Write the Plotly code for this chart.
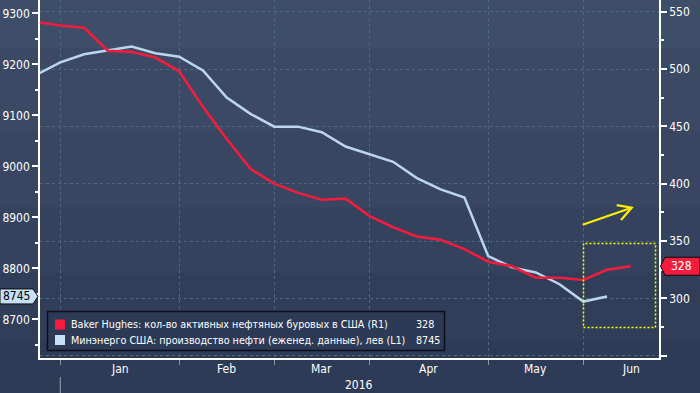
import plotly.graph_objects as go
import pandas as pd

# ---------------- data ----------------
WEEKS = ["2015-12-25", "2016-01-01", "2016-01-08", "2016-01-15", "2016-01-22", "2016-01-29",
         "2016-02-05", "2016-02-12", "2016-02-19", "2016-02-26", "2016-03-04", "2016-03-11",
         "2016-03-18", "2016-03-25", "2016-04-01", "2016-04-08", "2016-04-15", "2016-04-22",
         "2016-04-29", "2016-05-06", "2016-05-13", "2016-05-20", "2016-05-27", "2016-06-03",
         "2016-06-10", "2016-06-17"]
RIGS = [541, 538, 536, 516, 515, 510, 498, 467, 439, 413, 400, 392, 386, 387, 372, 362,
        354, 351, 343, 332, 328, 318, 318, 316, 325, 328]
PROD = [9180, 9204, 9220, 9227, 9235, 9222, 9215, 9188, 9135, 9103, 9078, 9078, 9067,
        9039, 9024, 9009, 8977, 8955, 8939, 8824, 8802, 8792, 8769, 8735, 8745]
MONTH_STARTS = ["2016-01-01", "2016-02-05", "2016-03-04", "2016-04-01", "2016-05-06",
                "2016-06-03", "2016-07-01"]
MONTH_LABELS = ["Jan", "Feb", "Mar", "Apr", "May", "Jun"]
YEAR_LABEL = "2016"
LEFT_TICKS = [8700, 8800, 8900, 9000, 9100, 9200, 9300]
RIGHT_TICKS = [250, 300, 350, 400, 450, 500, 550]
RIGHT_TICKTEXT = ["", "300", "350", "400", "450", "500", "550"]
LEGEND_NAMES = ["Baker Hughes: кол-во активных нефтяных буровых в США (R1)",
                "Минэнерго США: производство нефти (еженед. данные), лев (L1)"]
LAST_RIG = RIGS[-1]
LAST_PROD = PROD[-1]

# ---------------- styling ----------------
W, H = 700, 393
L, R, T, B = 40, 659, 0, 358
PW, PH = R - L, B - T
YL = [8624.3, 9326.3]
YR = [248.0, 560.2]
XR = ["2015-12-26 00:30", "2016-06-25 07:00"]
FONT = "DejaVu Sans Condensed, Liberation Sans Narrow, DejaVu Sans, sans-serif"
RED = "#f41c3e"
BLUE = "#bcd6f0"
GRID = "#4d6a82"
YEL = "#ffee00"


def px(x):
    return (x - L) / PW


def py(y):
    return (B - y) / PH


def pix_left(v):
    return B - (v - YL[0]) / (YL[1] - YL[0]) * PH


def pix_right(v):
    return B - (v - YR[0]) / (YR[1] - YR[0]) * PH


fig = go.Figure()
fig.add_trace(go.Scatter(x=WEEKS[:len(RIGS)], y=RIGS, yaxis="y2", mode="lines",
                         line=dict(color=RED, width=2.6), hoverinfo="skip", showlegend=False))
fig.add_trace(go.Scatter(x=WEEKS[:len(PROD)], y=PROD, yaxis="y", mode="lines",
                         line=dict(color=BLUE, width=2.5), hoverinfo="skip", showlegend=False))

shapes = []
# background bands
bands = [(0, 48, "#3f4e68"), (48, 130, "#3b4964"), (130, 207, "#384661"),
         (207, 273, "#34425d"), (273, 340, "#313e5a"), (340, 393, "#2e3b57")]
for y0, y1, c in bands:
    shapes.append(dict(type="rect", xref="paper", yref="paper", x0=px(0), x1=px(W),
                       y0=py(y1), y1=py(y0), fillcolor=c, line=dict(width=0), layer="below"))

# legend box
shapes.append(dict(type="rect", xref="paper", yref="paper", x0=px(47.5), x1=px(444.5),
                   y0=py(350.5), y1=py(311.5), fillcolor="#2d3a56",
                   line=dict(color="#0c0f18", width=1.5)))
shapes.append(dict(type="rect", xref="paper", yref="paper", x0=px(55), x1=px(65),
                   y0=py(329.5), y1=py(319.5), fillcolor=RED, line=dict(width=0)))
shapes.append(dict(type="rect", xref="paper", yref="paper", x0=px(55), x1=px(65),
                   y0=py(345), y1=py(335), fillcolor="#c6e0f8", line=dict(width=0)))

# yellow arrow and box
shapes.append(dict(type="line", xref="paper", yref="paper", x0=px(582.7), y0=py(224.7),
                   x1=px(631.5), y1=py(207.7), line=dict(color=YEL, width=2.2)))
shapes.append(dict(type="path", xref="paper", yref="paper",
                   path=f"M {px(616.7)},{py(205.2)} L {px(631.7)},{py(207.7)} L {px(621)},{py(220)}",
                   line=dict(color=YEL, width=2.2)))
shapes.append(dict(type="rect", xref="paper", yref="paper", x0=px(583.5), x1=px(655.5),
                   y0=py(327.5), y1=py(243.5), fillcolor="rgba(0,0,0,0)",
                   line=dict(color="#ffff00", width=1.5, dash="2px,2px")))

# value badges
cy = pix_left(LAST_PROD)
shapes.append(dict(type="path", xref="paper", yref="paper",
                   path=(f"M {px(0)},{py(cy-7.5)} L {px(33)},{py(cy-7.5)} L {px(38)},{py(cy)} "
                         f"L {px(33)},{py(cy+7.5)} L {px(0)},{py(cy+7.5)} Z"),
                   fillcolor="#c6e0f8", line=dict(color="#0a0a0a", width=1)))
cyr = pix_right(LAST_RIG)
shapes.append(dict(type="path", xref="paper", yref="paper",
                   path=(f"M {px(700)},{py(cyr-9)} L {px(665)},{py(cyr-9)} L {px(660.5)},{py(cyr)} "
                         f"L {px(665)},{py(cyr+9)} L {px(700)},{py(cyr+9)} Z"),
                   fillcolor=RED, line=dict(color="#0a0a0a", width=1)))

# year separator
shapes.append(dict(type="line", xref="x", yref="paper", x0=MONTH_STARTS[0], x1=MONTH_STARTS[0],
                   y0=py(377), y1=py(393), line=dict(color="#9aa3b0", width=1)))

annotations = []
ms = pd.to_datetime(MONTH_STARTS)
for i, lab in enumerate(MONTH_LABELS):
    mid = ms[i] + (ms[i + 1] - ms[i]) / 2
    annotations.append(dict(x=mid.strftime("%Y-%m-%d %H:%M"), xref="x", y=py(369), yref="paper",
                            text=lab, showarrow=False, xanchor="center", yanchor="middle",
                            font=dict(family=FONT, size=12, color="white")))
annotations.append(dict(x=px(358.5), xref="paper", y=py(384.5), yref="paper", text=YEAR_LABEL,
                        showarrow=False, xanchor="center", yanchor="middle",
                        font=dict(family=FONT, size=12, color="white")))
for i, (name, val) in enumerate(zip(LEGEND_NAMES, [LAST_RIG, LAST_PROD])):
    yy = 324.5 + i * 15.5
    annotations.append(dict(x=px(69), xref="paper", y=py(yy), yref="paper", text=name,
                            showarrow=False, xanchor="left", yanchor="middle",
                            font=dict(family=FONT, size=10.7, color="white")))
    annotations.append(dict(x=px(414), xref="paper", y=py(yy), yref="paper", text=str(val),
                            showarrow=False, xanchor="left", yanchor="middle",
                            font=dict(family=FONT, size=10.7, color="white")))
annotations.append(dict(x=px(16.5), xref="paper", y=py(cy), yref="paper", text=str(LAST_PROD),
                        showarrow=False, xanchor="center", yanchor="middle",
                        font=dict(family=FONT, size=12, color="black")))
annotations.append(dict(x=px(681), xref="paper", y=py(cyr), yref="paper", text=str(LAST_RIG),
                        showarrow=False, xanchor="center", yanchor="middle",
                        font=dict(family=FONT, size=12, color="white")))

fig.update_layout(
    template="none",
    width=W, height=H,
    margin=dict(l=L, r=W - R, t=T, b=H - B, autoexpand=False),
    paper_bgcolor="#2e3b57", plot_bgcolor="rgba(0,0,0,0)",
    showlegend=False,
    shapes=shapes, annotations=annotations,
    xaxis=dict(type="date", range=XR, tickmode="array", tickvals=MONTH_STARTS[:-1],
               showticklabels=False, ticks="outside", ticklen=5, tickcolor="#8c96a8",
               showgrid=True, gridcolor=GRID, griddash="3px,3px", gridwidth=1,
               showline=True, linecolor="white", linewidth=1.5, zeroline=False,
               automargin=False),
    yaxis=dict(range=YL, tickmode="array", tickvals=LEFT_TICKS, side="left",
               showgrid=False, zeroline=False, showline=True, linecolor="white", linewidth=1.5,
               ticks="outside", ticklen=6, tickwidth=2, tickcolor="white", automargin=False,
               tickfont=dict(family=FONT, size=12, color="white"),
               minor=dict(dtick=50, tick0=8650, ticks="outside", ticklen=3, tickcolor="white",
                          showgrid=False)),
    yaxis2=dict(range=YR, tickmode="array", tickvals=RIGHT_TICKS, ticktext=RIGHT_TICKTEXT,
                overlaying="y", side="right", anchor="x", automargin=False,
                showgrid=True, gridcolor=GRID, griddash="3px,3px", gridwidth=1,
                zeroline=False, showline=True, linecolor="white", linewidth=1.5,
                ticks="outside", ticklen=6, tickwidth=2, tickcolor="white",
                tickfont=dict(family=FONT, size=12, color="white"),
                minor=dict(dtick=25, tick0=250, ticks="outside", ticklen=3, tickcolor="white",
                           showgrid=False)),
)

fig.write_html("out.html", config={"displayModeBar": False},
               post_script="document.body.style.margin='0';document.body.style.padding='0';"
                           "document.body.style.overflow='hidden';")
